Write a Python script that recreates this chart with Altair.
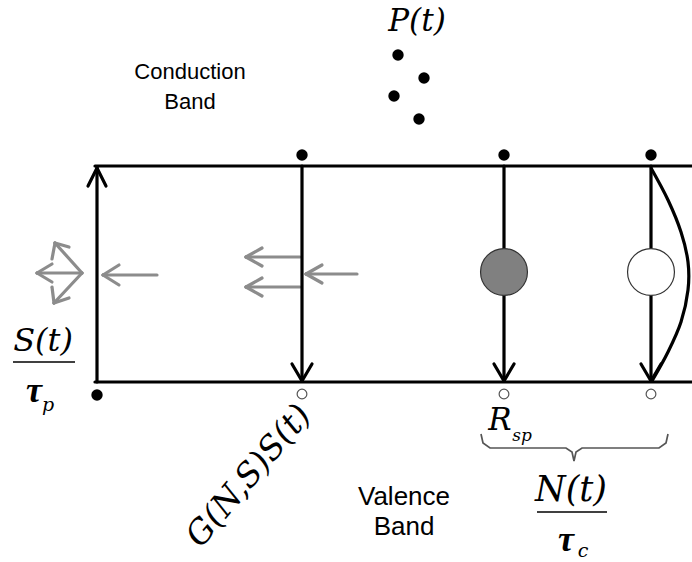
import altair as alt
import pandas as pd

W, H = 692, 562

# --- band edges and vertical transitions (black, thick) : x1, y1, x2, y2
blk_x1 = [95, 95, 97, 302, 504, 651, 88, 97, 292, 302, 494, 504, 641, 651]
blk_y1 = [166, 382, 382, 166, 166, 166, 186, 168, 364, 381, 364, 381, 364, 381]
blk_x2 = [692, 692, 97, 302, 504, 651, 97, 106, 302, 312, 504, 514, 651, 661]
blk_y2 = [166, 382, 168, 381, 381, 381, 168, 186, 381, 364, 381, 364, 381, 364]

# --- photon arrows (grey) : x1, y1, x2, y2
gry_x1 = [157, 103, 103, 300, 246, 246, 300, 246, 246, 357, 306, 306,
          82, 37, 37, 82, 55, 55, 82, 54, 54]
gry_y1 = [275, 275, 275, 257, 257, 257, 287, 287, 287, 274, 274, 274,
          273, 273, 273, 273, 243, 243, 273, 303, 303]
gry_x2 = [103, 119, 119, 246, 262, 262, 246, 262, 262, 306, 322, 322,
          37, 52, 52, 55, 52, 69, 54, 52, 69]
gry_y2 = [275, 265, 285, 257, 248, 266, 287, 278, 296, 274, 265, 283,
          273, 264, 282, 243, 259, 247, 303, 287, 298]

# --- electrons (filled dots) and holes (open dots)
elec_x = [302, 504, 651, 97, 398, 424, 394, 419]
elec_y = [155, 155, 155, 395, 55, 78, 96, 119]
hole_x = [302, 504, 651]
hole_y = [394, 394, 394]

# --- big recombination circles
big_x = [504, 651]
big_y = [272, 272]
big_fill = ["#808080", "#ffffff"]

# --- non-radiative curve
curve_x = [651, 668, 681, 688, 688, 681, 668, 652]
curve_y = [168, 200, 232, 262, 290, 322, 352, 381]

# --- brace under R_sp
brace_x = [481, 483, 490, 566, 572, 574, 576, 582, 659, 666, 668]
brace_y = [434, 443, 448, 448, 452, 461, 452, 448, 448, 443, 434]

# --- fraction bars : x1, x2, y
frac_x1 = [13, 537]
frac_x2 = [75, 607]
frac_y = [362, 512]

# --- plain labels
lab_text = ["Conduction", "Band", "Valence", "Band"]
lab_x = [190, 190, 404, 404]
lab_y = [72, 102, 497, 527]
lab_size = [22, 22, 26, 26]

# --- math labels (italic serif)
math_text = ["P(t)", "S(t)", "N(t)", "R"]
math_x = [417, 43, 571, 500]
math_y = [22, 341, 490, 421]
math_size = [31, 32, 35, 31]

# --- subscripts
sub_text = ["sp", "p", "c"]
sub_x = [522, 48, 583]
sub_y = [436, 405, 551]
sub_size = [17, 19, 19]

# --- tau symbols
tau_text = ["τ", "τ"]
tau_x = [34, 566]
tau_y = [391, 540]

xs = alt.Scale(domain=[0, W], nice=False, zero=False)
ys = alt.Scale(domain=[0, H], nice=False, zero=False, reverse=True)


def X(f="x"):
    return alt.X(f"{f}:Q", scale=xs, axis=None)


def Y(f="y"):
    return alt.Y(f"{f}:Q", scale=ys, axis=None)


blk = pd.DataFrame(dict(x=blk_x1, y=blk_y1, x2=blk_x2, y2=blk_y2))
gry = pd.DataFrame(dict(x=gry_x1, y=gry_y1, x2=gry_x2, y2=gry_y2))
frac = pd.DataFrame(dict(x=frac_x1, x2=frac_x2, y=frac_y))

l_blk = alt.Chart(blk).mark_rule(color="#000000", strokeWidth=3.2, strokeCap="round").encode(
    x=X(), y=Y(), x2="x2:Q", y2="y2:Q")
l_gry = alt.Chart(gry).mark_rule(color="#8c8c8c", strokeWidth=3.2, strokeCap="round").encode(
    x=X(), y=Y(), x2="x2:Q", y2="y2:Q")
l_frac = alt.Chart(frac).mark_rule(color="#000000", strokeWidth=1.6).encode(
    x=X(), x2="x2:Q", y=Y())

l_curve = alt.Chart(pd.DataFrame(dict(x=curve_x, y=curve_y, o=range(len(curve_x))))).mark_line(
    color="#000000", strokeWidth=3.2, interpolate="cardinal").encode(
    x=X(), y=Y(), order="o:Q")

l_brace = alt.Chart(pd.DataFrame(dict(x=brace_x, y=brace_y, o=range(len(brace_x))))).mark_line(
    color="#555555", strokeWidth=1.7, interpolate="linear").encode(
    x=X(), y=Y(), order="o:Q")

l_big = alt.Chart(pd.DataFrame(dict(x=big_x, y=big_y, f=big_fill))).mark_point(
    shape="circle", filled=True, size=2200, stroke="#333333", strokeWidth=1.2, opacity=1).encode(
    x=X(), y=Y(), fill=alt.Fill("f:N", scale=None))

l_elec = alt.Chart(pd.DataFrame(dict(x=elec_x, y=elec_y))).mark_point(
    shape="circle", filled=True, size=130, color="#000000", opacity=1).encode(x=X(), y=Y())

l_hole = alt.Chart(pd.DataFrame(dict(x=hole_x, y=hole_y))).mark_point(
    shape="circle", filled=False, size=95, color="#555555", strokeWidth=1.2, opacity=1).encode(x=X(), y=Y())

l_lab = alt.Chart(pd.DataFrame(dict(x=lab_x, y=lab_y, t=lab_text, s=lab_size))).mark_text(
    font="Liberation Sans", color="#000000").encode(
    x=X(), y=Y(), text="t:N", size=alt.Size("s:Q", scale=None))

l_math = alt.Chart(pd.DataFrame(dict(x=math_x, y=math_y, t=math_text, s=math_size))).mark_text(
    font="DejaVu Serif", fontStyle="italic", color="#000000").encode(
    x=X(), y=Y(), text="t:N", size=alt.Size("s:Q", scale=None))

l_sub = alt.Chart(pd.DataFrame(dict(x=sub_x, y=sub_y, t=sub_text, s=sub_size))).mark_text(
    font="DejaVu Serif", fontStyle="italic", color="#000000").encode(
    x=X(), y=Y(), text="t:N", size=alt.Size("s:Q", scale=None))

l_tau = alt.Chart(pd.DataFrame(dict(x=tau_x, y=tau_y, t=tau_text))).mark_text(
    font="Liberation Serif", fontStyle="italic", fontWeight="bold", fontSize=36, color="#000000").encode(
    x=X(), y=Y(), text="t:N")

l_gain = alt.Chart(pd.DataFrame(dict(x=[249], y=[476], t=["G(N,S)S(t)"]))).mark_text(
    font="DejaVu Serif", fontStyle="italic", fontSize=33, angle=310, color="#000000").encode(
    x=X(), y=Y(), text="t:N")

chart = alt.layer(
    l_frac, l_brace, l_gry, l_blk, l_curve, l_big, l_elec, l_hole,
    l_lab, l_math, l_sub, l_tau, l_gain
).properties(width=W, height=H, padding=0, autosize="none", background="#ffffff"
).configure_view(stroke=None)

chart.save("out.html", embed_options={"renderer": "svg", "actions": False})
